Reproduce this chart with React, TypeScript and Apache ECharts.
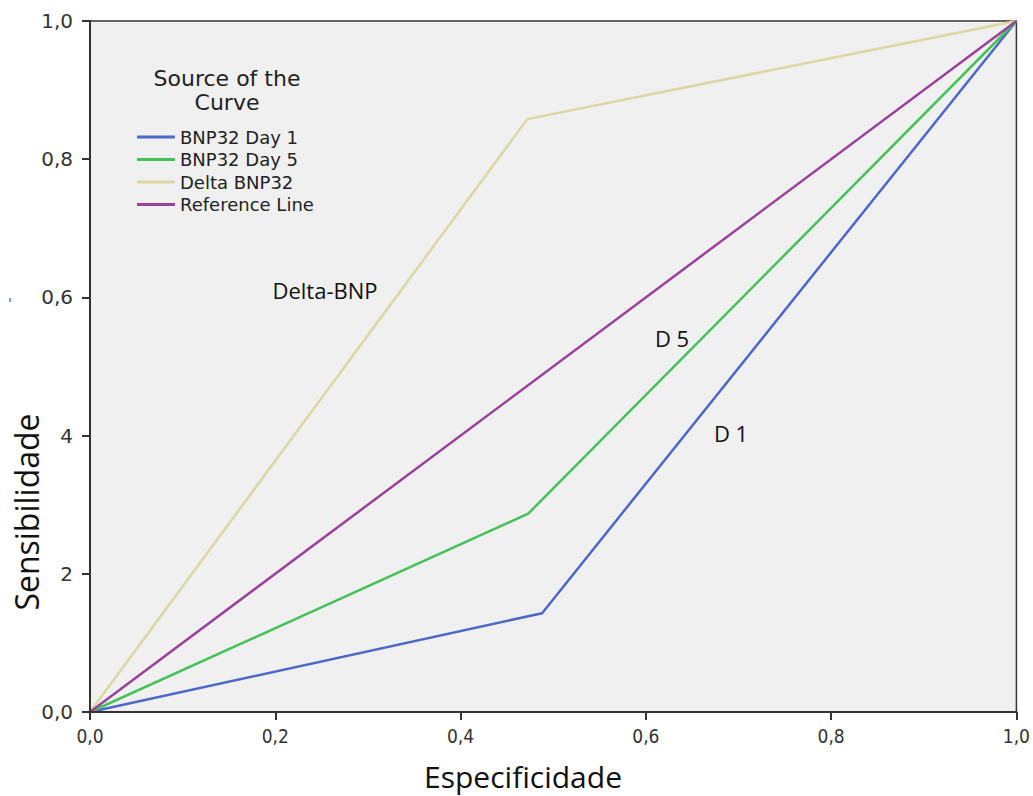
import React, { useEffect, useRef } from "react";
import * as echarts from "echarts";

const xTicks = ["0,0", "0,2", "0,4", "0,6", "0,8", "1,0"];
const yTicks = ["0,0", "2", "4", "0,6", "0,8", "1,0"];

const seriesNames = ["BNP32 Day 1", "BNP32 Day 5", "Delta BNP32", "Reference Line"];
const day1: [number, number][] = [[0, 0], [0.488, 0.143], [1, 1]];
const day5: [number, number][] = [[0, 0], [0.473, 0.287], [1, 1]];
const delta: [number, number][] = [[0, 0], [0.472, 0.858], [1, 1]];
const reference: [number, number][] = [[0, 0], [1, 1]];
const colors = ["#4d68c6", "#46c25a", "#dcd6a2", "#9b419b"];

const annotations = [
  { text: "Delta-BNP", x: 325, y: 290 },
  { text: "D 5", x: 672, y: 338 },
  { text: "D 1", x: 731, y: 433 },
];

export default function App() {
  const ref = useRef<HTMLDivElement>(null);
  useEffect(() => {
    if (!ref.current) return;
    const chart = echarts.init(ref.current, null, { renderer: "svg" });
    const data = [day1, day5, delta, reference];
    const tickIdx = (v: number) => Math.round(v * 5);
    chart.setOption({
      animation: false,
      backgroundColor: "#ffffff",
      grid: {
        left: 90,
        right: 15,
        top: 21,
        bottom: 84,
        show: true,
        backgroundColor: "#f0f0f0",
        borderColor: "#333333",
        borderWidth: 1.5,
        z: 0,
      },
      xAxis: {
        type: "value",
        min: 0,
        max: 1,
        interval: 0.2,
        splitLine: { show: false },
        axisLine: { show: true, onZero: false, lineStyle: { color: "#333", width: 2 } },
        axisTick: { show: true, inside: false, length: 8, lineStyle: { color: "#333", width: 2 } },
        axisLabel: {
          formatter: (v: number) => xTicks[tickIdx(v)],
          color: "#333",
          fontSize: 19,
          fontFamily: "DejaVu Sans Condensed, DejaVu Sans",
          margin: 14,
        },
        z: 5,
      },
      yAxis: {
        type: "value",
        min: 0,
        max: 1,
        interval: 0.2,
        splitLine: { show: false },
        axisLine: { show: true, onZero: false, lineStyle: { color: "#333", width: 2 } },
        axisTick: { show: true, inside: false, length: 8, lineStyle: { color: "#333", width: 2 } },
        axisLabel: {
          formatter: (v: number) => yTicks[tickIdx(v)],
          color: "#333",
          fontSize: 20,
          fontFamily: "DejaVu Sans",
          margin: 17,
        },
        z: 5,
      },
      legend: {
        orient: "vertical",
        left: 132,
        top: 123,
        itemWidth: 38,
        itemHeight: 3,
        itemGap: 4.5,
        icon: "rect",
        data: seriesNames,
        textStyle: { fontSize: 18, lineHeight: 18, color: "#222", fontFamily: "DejaVu Sans" },
      },
      series: data.map((d, i) => ({
        name: seriesNames[i],
        type: "line",
        data: d,
        showSymbol: false,
        symbol: "none",
        color: colors[i],
        lineStyle: { color: colors[i], width: 2.5 },
        z: i === 3 ? 3 : 2,
      })),
      graphic: [
        {
          type: "text",
          x: 227,
          y: 66,
          style: {
            text: "Source of the\nCurve",
            align: "center",
            fontSize: 22,
            lineHeight: 24,
            fill: "#222",
            fontFamily: "DejaVu Sans",
          },
        },
        ...annotations.map((a) => ({
          type: "text",
          x: a.x,
          y: a.y,
          style: {
            text: a.text,
            fontSize: 22,
            fill: "#111",
            fontFamily: "Open Sans",
            align: "center",
            verticalAlign: "middle",
          },
        })),
        {
          type: "text",
          x: 523,
          y: 776,
          style: {
            text: "Especificidade",
            fontSize: 30,
            fill: "#111",
            fontFamily: "Open Sans",
            align: "center",
            verticalAlign: "middle",
          },
        },
        {
          type: "text",
          x: 26,
          y: 512,
          rotation: Math.PI / 2,
          style: {
            text: "Sensibilidade",
            fontSize: 32,
            fill: "#111",
            fontFamily: "Open Sans",
            align: "center",
            verticalAlign: "middle",
          },
        },
        {
          type: "text",
          x: 10,
          y: 303,
          style: {
            text: "'",
            fontSize: 14,
            fill: "#555",
            fontFamily: "DejaVu Sans",
            align: "center",
            verticalAlign: "middle",
          },
        },
      ],
    });
    return () => chart.dispose();
  }, []);
  return <div ref={ref} style={{ width: 1033, height: 796, position: "absolute", left: 0, top: 0 }} />;
}
